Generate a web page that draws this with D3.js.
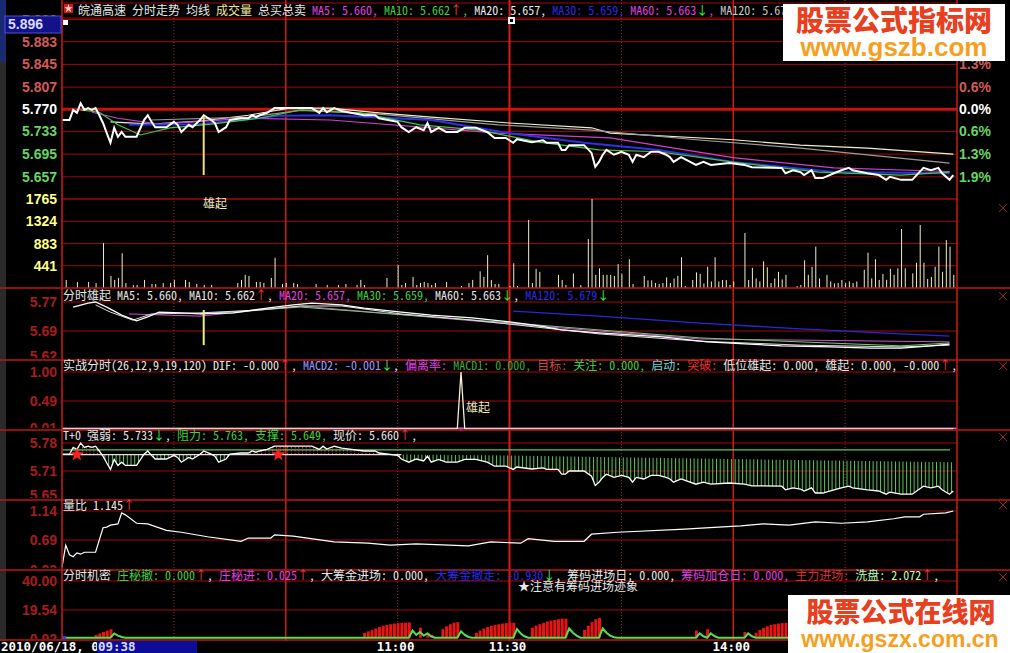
<!DOCTYPE html>
<html><head><meta charset="utf-8">
<script src="https://cdn.jsdelivr.net/npm/d3@7"></script>
<style>body{margin:0;background:#000;overflow:hidden} text{white-space:pre}</style>
</head><body><svg id="c" width="1010" height="653"></svg>
<script>
// ---------------- DATA ----------------
const prevClose = 5.770;
const priceTicks = [5.920, 5.883, 5.845, 5.807, 5.770, 5.733, 5.695, 5.657];
const priceTickLabels = ["5.920","5.883","5.845","5.807","5.770","5.733","5.695","5.657"];
const pctLabels = ["2.6%","1.9%","1.3%","0.6%","0.0%","0.6%","1.3%","1.9%"];
const volTicks = [1765, 1324, 883, 441];
const timeLabels = [["11:00",90],["11:30",120],["14:00",180]];

// price [minute, price]
const price = [[0,5.752],[2,5.752],[3,5.769],[4,5.764],[5,5.780],[6,5.769],[7,5.772],[8,5.769],[9,5.772],[10,5.760],[11,5.747],[12,5.730],[13,5.714],[14,5.739],[15,5.724],[16,5.732],[17,5.724],[20,5.724],[22,5.752],[23,5.760],[24,5.749],[25,5.740],[28,5.740],[30,5.749],[31,5.744],[32,5.732],[34,5.744],[35,5.740],[37,5.752],[38,5.760],[40,5.752],[41,5.747],[42,5.732],[44,5.740],[45,5.752],[48,5.755],[50,5.755],[51,5.760],[52,5.757],[53,5.760],[55,5.764],[57,5.772],[67,5.772],[69,5.764],[70,5.772],[71,5.765],[73,5.772],[75,5.767],[81,5.760],[84,5.760],[85,5.755],[90,5.749],[91,5.740],[93,5.732],[95,5.740],[97,5.735],[98,5.747],[99,5.732],[101,5.739],[103,5.732],[106,5.732],[108,5.739],[111,5.739],[114,5.732],[116,5.722],[119,5.722],[121,5.714],[122,5.720],[126,5.715],[129,5.718],[130,5.714],[133,5.714],[134,5.702],[135,5.702],[136,5.710],[140,5.710],[142,5.697],[143,5.674],[144,5.682],[145,5.694],[146,5.702],[148,5.694],[150,5.699],[152,5.694],[153,5.682],[154,5.694],[156,5.690],[158,5.699],[160,5.699],[162,5.694],[163,5.690],[164,5.682],[166,5.690],[170,5.677],[172,5.682],[174,5.677],[179,5.680],[183,5.677],[185,5.673],[193,5.672],[194,5.663],[196,5.668],[198,5.665],[199,5.660],[201,5.668],[202,5.655],[204,5.655],[207,5.663],[209,5.668],[211,5.672],[212,5.668],[216,5.663],[219,5.660],[221,5.652],[222,5.657],[225,5.652],[228,5.652],[231,5.672],[233,5.668],[235,5.672],[236,5.663],[238,5.652],[239,5.660]];
const maCream = [[13,5.749],[24,5.745],[37,5.750],[50,5.760],[61,5.772],[72,5.772],[85,5.764],[99,5.757],[120,5.747],[142,5.739],[147,5.730],[180,5.719],[198,5.710],[216,5.705],[239,5.695]];
const maGrey = [[24,5.752],[50,5.757],[64,5.768],[85,5.762],[117,5.744],[142,5.735],[170,5.719],[198,5.705],[238,5.680]];
const maMagenta = [[8,5.765],[15,5.755],[26,5.745],[50,5.755],[72,5.752],[117,5.730],[147,5.722],[180,5.689],[207,5.672],[238,5.666]];
const maBlue = [[18,5.744],[37,5.745],[58,5.759],[72,5.760],[99,5.752],[120,5.730],[140,5.714],[160,5.702],[180,5.682],[207,5.665],[238,5.663]];
const maGreen = [[5,5.769],[10,5.765],[15,5.744],[21,5.727],[29,5.739],[40,5.745],[53,5.755],[64,5.769],[80,5.764],[96,5.744],[112,5.735],[128,5.715],[144,5.702],[160,5.699],[182,5.680],[203,5.665],[225,5.660],[238,5.665]];
const signalMain = [38, 5.757, 5.660];

// volume [minute, volume]
const volume = [[1,160],[4,120],[7,120],[9,100],[11,890],[13,240],[14,160],[15,200],[16,690],[17,100],[19,60],[20,60],[22,160],[24,80],[25,80],[27,100],[29,100],[30,160],[33,160],[34,120],[36,80],[38,60],[40,60],[47,100],[48,160],[49,260],[50,240],[52,120],[53,120],[54,100],[56,200],[57,600],[59,80],[60,100],[62,100],[63,80],[68,80],[71,60],[74,60],[76,80],[79,60],[80,160],[81,60],[87,200],[90,455],[91,60],[92,100],[94,220],[95,60],[96,100],[97,120],[98,100],[99,60],[100,100],[103,120],[107,40],[109,100],[110,160],[112,330],[113,220],[114,650],[115,160],[116,80],[117,80],[120,40],[121,490],[122,40],[125,1350],[126,100],[127,380],[128,320],[133,260],[134,160],[135,60],[137,290],[139,60],[141,970],[142,1765],[143,260],[144,390],[145,260],[146,260],[147,260],[148,240],[149,475],[150,280],[152,570],[153,80],[156,240],[157,150],[158,150],[159,100],[160,80],[161,100],[162,210],[163,100],[164,190],[165,240],[166,610],[167,40],[169,160],[170,310],[171,280],[172,90],[173,420],[174,130],[175,610],[176,130],[177,160],[178,160],[179,60],[180,130],[183,1090],[184,160],[185,400],[186,190],[187,130],[188,530],[189,410],[190,100],[191,190],[192,320],[193,170],[194,260],[197,40],[198,60],[199,550],[200,260],[201,420],[202,820],[203,190],[205,260],[206,130],[207,90],[208,100],[209,160],[210,100],[211,130],[212,100],[213,130],[215,360],[216,700],[217,190],[218,570],[219,160],[220,280],[221,160],[222,380],[223,260],[224,390],[225,1170],[226,390],[228,290],[229,500],[230,1250],[231,500],[232,180],[233,220],[234,420],[235,820],[236,320],[237,950],[238,820],[239,260]];

// panel 3 (分时雄起)
const p3Ticks = [5.77, 5.69, 5.62];
const p3White1 = [[3,5.756],[7,5.767],[9,5.770],[12,5.756],[16,5.734],[20,5.718],[23,5.729],[26,5.742],[32,5.740],[37,5.737],[46,5.740],[55,5.753],[62,5.762],[67,5.767],[75,5.762],[81,5.753],[91,5.742],[99,5.734],[110,5.726],[120,5.715],[128,5.704],[134,5.693],[144,5.685],[161,5.674],[173,5.660],[193,5.649],[206,5.646],[217,5.643],[225,5.643],[233,5.649],[238,5.654]];
const p3White2 = [[9,5.762],[13,5.742],[19,5.720],[24,5.737],[37,5.740],[53,5.748],[64,5.759],[75,5.759],[91,5.737],[110,5.720],[120,5.709],[144,5.682],[171,5.662],[198,5.651],[225,5.646],[238,5.651]];
const p3Magenta = [[18,5.737],[37,5.731],[64,5.759],[117,5.712],[171,5.668],[238,5.660]];
const p3Green = [[37,5.737],[64,5.756],[117,5.715],[171,5.671],[225,5.649],[238,5.657]];
const p3Blue = [[121,5.745],[144,5.731],[171,5.712],[198,5.696],[225,5.682],[238,5.676]];
const p3Signal = [38, 5.748, 5.651];

// panel 4 (实战分时)
const p4Ticks = [1.00, 0.49, 0.01];
const p4Spike = [[0,0],[106,0],[107,1.0],[108,0],[239,0]];

// panel 5 (T+0)
const p5Ticks = [5.78, 5.71, 5.65];
const strength = [[0,5.751],[91,5.751],[120,5.749],[144,5.745],[180,5.740],[216,5.735],[239,5.732]];
const resistance = 5.763;
const p5Stars = [4, 58];

// panel 6 (量比)
const p6Ticks = [1.14, 0.69, 0.23];
const volRatio = [[0,0.27],[1,0.61],[2,0.46],[3,0.43],[4,0.49],[5,0.47],[6,0.50],[9,0.50],[11,0.88],[12,0.89],[13,0.92],[15,0.94],[16,1.11],[17,1.08],[20,0.95],[23,0.94],[28,0.84],[32,0.81],[39,0.74],[48,0.67],[50,0.72],[56,0.72],[57,0.77],[62,0.75],[73,0.66],[82,0.64],[88,0.61],[95,0.63],[109,0.60],[115,0.66],[123,0.64],[125,0.71],[132,0.67],[140,0.67],[142,0.78],[149,0.81],[167,0.86],[176,0.89],[182,0.91],[188,0.94],[195,0.92],[202,0.97],[209,0.95],[216,0.97],[223,1.02],[226,1.05],[230,1.05],[231,1.09],[237,1.11],[239,1.14]];

// panel 7 (分时机密)
const p7Ticks = [40.00, 19.54, -0.92];
const p7Red = [[9,2],[10,3],[11,4],[12,5],[13,6],[81,3.5],[82,4.5],[83,5.5],[84,6.5],[85,7.5],[86,8.5],[87,9],[88,9.5],[89,10],[90,10.3],[91,10.5],[92,10.6],[93,10.8],[96,7],[98,3.5],[99,2],[102,6],[103,8],[104,9.5],[105,10.5],[106,11],[111,3.5],[112,5],[113,6.5],[114,7.5],[115,8.5],[116,9],[117,9.5],[118,10],[119,10.3],[120,10.5],[121,10.5],[126,7],[127,8.5],[128,9.5],[129,10.5],[130,11.5],[131,12],[132,12.5],[133,13],[134,13.4],[135,13.4],[140,5.5],[141,8.5],[142,11],[143,13],[144,14],[170,5],[173,6],[183,4],[186,3.5],[187,5.5],[188,7],[189,8],[190,9],[191,9.5],[192,10],[193,10.3],[194,10.5],[195,10.6]];
const p7Green = [[0,0],[13,0],[14,3],[15,1.5],[16,0.5],[17,0],[93,0],[94,5],[95,2],[96,4],[97,1.5],[98,3],[99,1],[100,0],[106,0],[107,4.5],[108,2],[109,0.5],[110,0],[121,0],[122,6],[123,3],[124,1],[125,0],[135,0],[136,6.5],[137,3.5],[138,1.5],[139,0],[144,0],[145,6.5],[146,3.5],[147,1.5],[148,0.3],[149,0],[170,0],[171,3],[172,1],[173,0],[174,3],[175,1],[176,0],[183,0],[184,3],[185,1],[186,0],[196,0]];

// ---------------- DRAW ----------------
const svg = d3.select("#c");
const FT = '"Noto Sans Mono CJK SC","DejaVu Sans Mono",monospace';
const FL = '"Liberation Sans",Arial,sans-serif';
const RED = "#a00808", RED2 = "#d01818", DOT = "#9a2a2a";
svg.append("rect").attr("width",1010).attr("height",653).attr("fill","#000");

const x = d3.scaleLinear().domain([0,240]).range([62,957]);
const yMain = d3.scaleLinear().domain([5.620,5.920]).range([199,19.5]);
const yVol = d3.scaleLinear().domain([0,1765]).range([288,199]);
const y3 = d3.scaleLinear().domain([5.69,5.77]).range([331,302]);
const y4 = d3.scaleLinear().domain([0.49,1.00]).range([401,372]);
const y5 = d3.scaleLinear().domain([5.71,5.78]).range([471,443]);
const y6 = d3.scaleLinear().domain([0.69,1.14]).range([540,511]);
const y7 = d3.scaleLinear().domain([19.54,40]).range([610,581]);

// left strip
svg.append("rect").attr("x",0).attr("y",0).attr("width",6).attr("height",641).attr("fill","#2a2a2a");
svg.append("rect").attr("x",0).attr("y",0).attr("width",6).attr("height",62).attr("fill","#1a2a70");

// horizontal grids
const hg = svg.append("g");
function hline(y, c, w, x1=62, x2=957){ hg.append("line").attr("x1",x1).attr("x2",x2).attr("y1",y).attr("y2",y).attr("stroke",c).attr("stroke-width",w); }
priceTicks.forEach(v => hline(yMain(v), RED, 1));
volTicks.forEach(v => hline(yVol(v), RED, 1));
[[y3,p3Ticks],[y4,p4Ticks],[y5,p5Ticks],[y6,p6Ticks],[y7,p7Ticks]].forEach(([s,t]) => { hline(s(t[0]),RED,1); hline(s(t[1]),RED,1); });
hline(3, RED, 1); hline(18, RED, 1);

// vertical grids
const vg = svg.append("g");
[30,90,150,210].forEach(m => vg.append("line").attr("x1",x(m)).attr("x2",x(m)).attr("y1",0).attr("y2",641).attr("stroke",DOT).attr("stroke-width",1).attr("stroke-dasharray","1,2"));
[60,180].forEach(m => vg.append("line").attr("x1",x(m)).attr("x2",x(m)).attr("y1",0).attr("y2",641).attr("stroke",RED2).attr("stroke-width",1.5));
vg.append("line").attr("x1",x(120)).attr("x2",x(120)).attr("y1",0).attr("y2",641).attr("stroke","#e01818").attr("stroke-width",2);

// thick previous close line
hline(yMain(prevClose), "#c81010", 3);

// ---- main panel lines
const mline = d3.line().x(d=>x(d[0])).y(d=>yMain(d[1]));
const mp = svg.append("g").attr("fill","none");
mp.append("path").attr("d",mline(maCream)).attr("stroke","#f0f0c8").attr("stroke-width",1.2);
mp.append("path").attr("d",mline(maGrey)).attr("stroke","#9a9a9a").attr("stroke-width",1.2);
mp.append("path").attr("d",mline(maMagenta)).attr("stroke","#d040d0").attr("stroke-width",1.2);
mp.append("path").attr("d",mline(maBlue)).attr("stroke","#3030e8").attr("stroke-width",2);
mp.append("path").attr("d",mline(maGreen)).attr("stroke","#40c840").attr("stroke-width",1.2);
mp.append("path").attr("d",mline(price)).attr("stroke","#ffffff").attr("stroke-width",2);
mp.append("line").attr("x1",x(signalMain[0])).attr("x2",x(signalMain[0])).attr("y1",yMain(signalMain[1])).attr("y2",yMain(signalMain[2])).attr("stroke","#f0e070").attr("stroke-width",2);

// ---- volume
svg.append("g").selectAll("line").data(volume).join("line")
  .attr("x1",d=>x(d[0])+0.5).attr("x2",d=>x(d[0])+0.5).attr("y1",yVol(0)).attr("y2",d=>yVol(d[1]))
  .attr("stroke","#f2efbc").attr("stroke-width",1);
svg.append("text").attr("x",203).attr("y",208).attr("fill","#f0e8c0").attr("font-family",FT).attr("font-size",12).text("雄起");

// ---- panel 3
const l3 = d3.line().x(d=>x(d[0])).y(d=>y3(d[1]));
const g3 = svg.append("g").attr("fill","none");
g3.append("path").attr("d",l3(p3Blue)).attr("stroke","#2828d8").attr("stroke-width",1.3);
g3.append("path").attr("d",l3(p3Magenta)).attr("stroke","#d050d0").attr("stroke-width",1);
g3.append("path").attr("d",l3(p3Green)).attr("stroke","#70d070").attr("stroke-width",1);
g3.append("path").attr("d",l3(p3White2)).attr("stroke","#e0e0e0").attr("stroke-width",1);
g3.append("path").attr("d",l3(p3White1)).attr("stroke","#ffffff").attr("stroke-width",1.3);
g3.append("line").attr("x1",x(p3Signal[0])).attr("x2",x(p3Signal[0])).attr("y1",y3(p3Signal[1])).attr("y2",y3(p3Signal[2])).attr("stroke","#f0f080").attr("stroke-width",2);

// ---- panel 4
const l4 = d3.line().x(d=>x(d[0])).y(d=>y4(d[1]));
svg.append("line").attr("x1",62).attr("x2",957).attr("y1",y4(0.01)).attr("y2",y4(0.01)).attr("stroke","#a080c0").attr("stroke-width",1.5);
svg.append("path").attr("d",l4(p4Spike)).attr("fill","none").attr("stroke","#f8f0d0").attr("stroke-width",1.3);
svg.append("rect").attr("x",x(106.5)).attr("y",y4(0.02)).attr("width",x(107.5)-x(106.5)).attr("height",3).attr("fill","#e040e0");
svg.append("text").attr("x",466).attr("y",412).attr("fill","#f0e8c0").attr("font-family",FT).attr("font-size",12).text("雄起");

// ---- panel 5 (T+0)
const defs = svg.append("defs");
const pg = defs.append("pattern").attr("id","hg").attr("patternUnits","userSpaceOnUse").attr("width",x(1)-x(0)).attr("height",4);
pg.append("rect").attr("x",0).attr("y",0).attr("width",1).attr("height",4).attr("fill","#5cc85c");
const pr = defs.append("pattern").attr("id","hr").attr("patternUnits","userSpaceOnUse").attr("width",x(1)-x(0)).attr("height",3);
pr.append("rect").attr("x",0).attr("y",0).attr("width",1).attr("height",1.5).attr("fill","#ff3030");
const aTopS = d3.area().x(d=>x(d[0])).y0(430).y1(d=>y5(d[1]));
const aBotS = d3.area().x(d=>x(d[0])).y0(500).y1(d=>y5(d[1]));
function clip(id, d){ defs.append("clipPath").attr("id",id).append("path").attr("d",d); }
clip("sBelow", aBotS(strength)); clip("sAbove", aTopS(strength));
clip("pBelow", aBotS(price)); clip("pAbove", aTopS(price));
svg.append("g").attr("clip-path","url(#sBelow)").append("g").attr("clip-path","url(#pAbove)")
  .append("rect").attr("x",62).attr("y",430).attr("width",895).attr("height",70).attr("fill","url(#hg)");
svg.append("g").attr("clip-path","url(#sAbove)").append("g").attr("clip-path","url(#pBelow)")
  .append("rect").attr("x",62).attr("y",430).attr("width",895).attr("height",70).attr("fill","url(#hr)");
svg.append("line").attr("x1",62).attr("x2",950).attr("y1",y5(resistance)).attr("y2",y5(resistance)).attr("stroke","#58c858").attr("stroke-width",1.3);
const l5 = d3.line().x(d=>x(d[0])).y(d=>y5(d[1]));
svg.append("path").attr("d",l5(strength.filter(d=>d[0]<=91))).attr("fill","none").attr("stroke","#f0d8e8").attr("stroke-width",1.2);
svg.append("path").attr("d",l5(price)).attr("fill","none").attr("stroke","#ffffff").attr("stroke-width",1.3);
svg.append("g").selectAll("path").data(p5Stars).join("path")
  .attr("d",d3.symbol(d3.symbolStar,60)).attr("transform",m=>`translate(${x(m)},${y5(strength[0][1])})`).attr("fill","#ff2020");

// ---- panel 6
const l6 = d3.line().x(d=>x(d[0])).y(d=>y6(d[1]));
svg.append("path").attr("d",l6(volRatio)).attr("fill","none").attr("stroke","#ffffff").attr("stroke-width",1.2);

// ---- panel 7
svg.append("g").selectAll("rect").data(p7Red).join("rect")
  .attr("x",d=>x(d[0])-1).attr("width",3).attr("y",d=>y7(d[1])).attr("height",d=>y7(0)-y7(d[1])).attr("fill","#e81414");
const l7 = d3.line().x(d=>x(d[0])).y(d=>y7(d[1]));
svg.append("path").attr("d",l7(p7Green)).attr("fill","none").attr("stroke","#50e050").attr("stroke-width",2);
svg.append("line").attr("x1",62).attr("x2",66).attr("y1",y7(0)).attr("y2",y7(0)).attr("stroke","#3040ff").attr("stroke-width",3);

// ---- separators & borders
const sep = svg.append("g");
[288,360,430,500,570,640].forEach(y => sep.append("line").attr("x1",0).attr("x2",1010).attr("y1",y).attr("y2",y).attr("stroke","#c01414").attr("stroke-width",1.6));
hline(199, RED, 1.2);
sep.append("line").attr("x1",62).attr("x2",62).attr("y1",0).attr("y2",640).attr("stroke",RED2).attr("stroke-width",1.5);
sep.append("line").attr("x1",957).attr("x2",957).attr("y1",0).attr("y2",640).attr("stroke",RED2).attr("stroke-width",1.5);
[208,296,366,437,505,577].forEach(y => {
  sep.append("path").attr("d",`M999,${y-4}L1007,${y+4}M1007,${y-4}L999,${y+4}`).attr("stroke","#902828").attr("stroke-width",1);
});

// ---- axis labels
function axisLabels(ticks, labels, scale, colorFn, top, bottom, id){
  defs.append("clipPath").attr("id",id).append("rect").attr("x",0).attr("y",top).attr("width",62).attr("height",bottom-top);
  svg.append("g").attr("clip-path",`url(#${id})`).selectAll("text").data(ticks).join("text")
    .attr("x",57).attr("y",d=>scale(d)).attr("dy","0.36em").attr("text-anchor","end")
    .attr("font-family",FL).attr("font-weight","bold").attr("font-size",14)
    .attr("fill",(d,i)=>colorFn(d,i)).text((d,i)=>labels[i]);
}
axisLabels(priceTicks, priceTickLabels, yMain, d => d>prevClose+1e-6 ? "#d45a5a" : (Math.abs(d-prevClose)<1e-6 ? "#ffffff" : "#66d466"), 0, 199, "c1");
axisLabels(volTicks, volTicks.map(String), yVol, () => "#ffff88", 188, 288, "c2");
axisLabels(p3Ticks, p3Ticks.map(v=>v.toFixed(2)), y3, () => "#a81c1c", 288, 358, "c3");
axisLabels(p4Ticks, p4Ticks.map(v=>v.toFixed(2)), y4, () => "#a81c1c", 360, 428, "c4");
axisLabels(p5Ticks, p5Ticks.map(v=>v.toFixed(2)), y5, () => "#a81c1c", 430, 498, "c5");
axisLabels(p6Ticks, p6Ticks.map(v=>v.toFixed(2)), y6, () => "#a81c1c", 500, 568, "c6");
axisLabels(p7Ticks, p7Ticks.map(v=>v.toFixed(2)), y7, () => "#a81c1c", 570, 639, "c7");
// percent labels
svg.append("g").selectAll("text").data(priceTicks).join("text")
  .attr("x",959).attr("y",d=>yMain(d)).attr("dy","0.36em")
  .attr("font-family",FL).attr("font-weight","bold").attr("font-size",14)
  .attr("fill",d => d>prevClose+1e-6 ? "#d45a5a" : (Math.abs(d-prevClose)<1e-6 ? "#ffffff" : "#66d466"))
  .text((d,i)=>pctLabels[i]);

// current price box
svg.append("rect").attr("x",5).attr("y",16).attr("width",56).attr("height",17).attr("fill","#12128a").attr("stroke","#5050d0");
svg.append("text").attr("x",8).attr("y",29).attr("font-family",FL).attr("font-weight","bold").attr("font-size",14).attr("fill","#d8dcff").text("5.896");
svg.append("rect").attr("x",63).attr("y",20).attr("width",5).attr("height",5).attr("fill","#fff");
svg.append("rect").attr("x",508).attr("y",17).attr("width",7).attr("height",7).attr("fill","#fff");
svg.append("rect").attr("x",510).attr("y",19).attr("width",3).attr("height",3).attr("fill","#000");

// ---- titles
const W="#e8e8e8", G="#40d040", M="#e040e0", B="#2c2ce0", GR="#c8c8c8", UP="#ff3838", DN="#38ff38";
function title(x0, y0, segs, clipId){
  const t = svg.append("text").attr("x",x0).attr("y",y0).attr("font-family",FT).attr("font-size",12);
  if (clipId) t.attr("clip-path",`url(#${clipId})`);
  segs.forEach(([s,c]) => t.append("tspan").attr("fill",c).text(s));
}
defs.append("clipPath").attr("id","tclip").append("rect").attr("x",60).attr("y",0).attr("width",897).attr("height",653);
svg.append("rect").attr("x",64).attr("y",4).attr("width",9).attr("height",9).attr("fill","#c82020");
svg.append("path").attr("d",d3.symbol(d3.symbolStar,22)).attr("transform","translate(68.5,8.5)").attr("fill","#ffd0d0");
title(78,15,[["皖通高速 ",W],["分时走势 ",W],["均线 ",W],["成交量 ","#f0e8a0"],["总买总卖 ",W],["MA5: 5.660, ",M],["MA10: 5.662",G],["↑",UP],[", ",G],["MA20: 5.657, ",W],["MA30: 5.659, ",B],["MA60: 5.663",M],["↓",DN],[", ",M],["MA120: 5.679",GR],["↓",DN],[",",GR]],"tclip");
title(63,300,[["分时雄起 ",W],["MA5: 5.660, ",W],["MA10: 5.662",W],["↑",UP],[", ",W],["MA20: 5.657, ",M],["MA30: 5.659, ",G],["MA60: 5.663",W],["↓",DN],[", ",W],["MA120: 5.679",B],["↓",DN]],"tclip");
title(63,370,[["实战分时(26,12,9,19,120) ",W],["DIF: -0.000",W],["↑",UP],[", ",W],["MACD2: -0.001","#9a9aff"],["↓",DN],[", ",W],["偏离率: ",M],["MACD1: 0.000, ","#38a838"],["目标: ","#d04848"],["关注: 0.000, ",G],["启动: ","#70d8d8"],["突破: ","#e83030"],["低位雄起: 0.000, ",W],["雄起: 0.000, ",W],["-0.000",W],["↑",UP],[", ",W],["0.000","#e83030"]],"tclip");
title(63,440,[["T+0 ",W],["强弱: 5.733",W],["↓",DN],[", ",W],["阻力: 5.763, ",G],["支撑: 5.649, ",G],["现价: 5.660",W],["↑",UP],[",",W]],"tclip");
title(63,510,[["量比 1.145",W],["↑",UP]],"tclip");
title(63,580,[["分时机密 ",W],["庄秘撤: 0.000",G],["↑",UP],[", ",W],["庄秘进: 0.025",M],["↑",UP],[", ",W],["大筹金进场: 0.000, ",W],["大筹金撤走: -0.930",B],["↓",DN],[", ",W],["筹码进场日: 0.000, ",W],["筹码加仓日: 0.000, ",M],["主力进场: ","#d83030"],["洗盘: 2.072","#b8ffb8"],["↑",UP],[",",W]],"tclip");
title(518,591,[["★注意有筹码进场迹象",W]]);

// ---- time axis
svg.append("rect").attr("x",0).attr("y",641).attr("width",1010).attr("height",12).attr("fill","#000");
const TA = '"DejaVu Sans Mono",monospace';
svg.append("text").attr("x",1).attr("y",651).attr("font-family",TA).attr("font-weight","bold").attr("font-size",12.5).attr("fill","#fff").text("2010/06/18, 0");
svg.append("rect").attr("x",97).attr("y",641).attr("width",100).attr("height",12).attr("fill","#0c0c98");
svg.append("text").attr("x",98).attr("y",651).attr("font-family",TA).attr("font-weight","bold").attr("font-size",12.5).attr("fill","#d8dcff").text("09:38");
svg.append("g").selectAll("text").data(timeLabels).join("text")
  .attr("x",d=>x(d[1])-2).attr("y",651).attr("text-anchor","middle").attr("font-family",TA).attr("font-weight","bold").attr("font-size",12.5).attr("fill","#fff").text(d=>d[0]);

// ---- watermarks
const WM = '"Noto Sans CJK SC",sans-serif';
svg.append("rect").attr("x",783).attr("y",4).attr("width",222).attr("height",57).attr("fill","#fff");
svg.append("text").attr("x",894).attr("y",31).attr("text-anchor","middle").attr("font-family",WM).attr("font-weight",900).attr("font-size",28).attr("fill","#e8401e").text("股票公式指标网");
svg.append("text").attr("x",894).attr("y",56).attr("text-anchor","middle").attr("font-family",FL).attr("font-weight","bold").attr("font-size",26).attr("fill","#f5a020").text("www.gszb.com");
svg.append("rect").attr("x",788).attr("y",595).attr("width",222).attr("height",58).attr("fill","#fff");
svg.append("text").attr("x",901).attr("y",622).attr("text-anchor","middle").attr("font-family",WM).attr("font-weight",900).attr("font-size",27).attr("fill","#e8401e").text("股票公式在线网");
svg.append("text").attr("x",900).attr("y",647).attr("text-anchor","middle").attr("font-family",FL).attr("font-weight","bold").attr("font-size",23).attr("fill","#f5a020").text("www.gszx.com.cn");
</script></body></html>
